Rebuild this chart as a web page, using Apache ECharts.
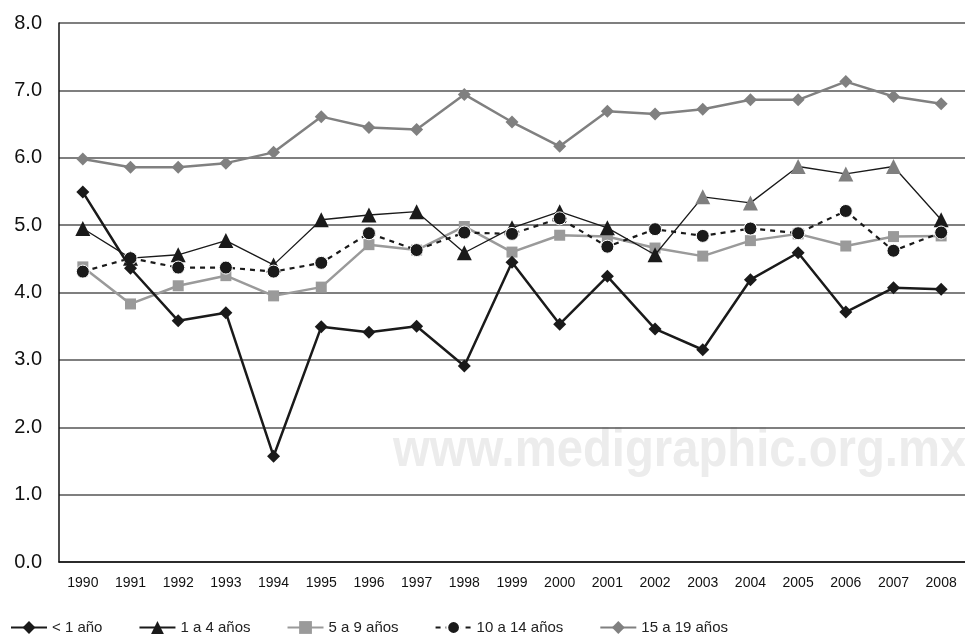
<!DOCTYPE html>
<html>
<head>
<meta charset="utf-8">
<script src="https://cdn.jsdelivr.net/npm/echarts@6/dist/echarts.min.js"></script>
<style>html,body{margin:0;padding:0;background:#fff}#c{width:965px;height:640px}</style>
</head>
<body>
<div id="c"></div>
<script>
var years = ['1990','1991','1992','1993','1994','1995','1996','1997','1998','1999','2000','2001','2002','2003','2004','2005','2006','2007','2008'];
var yTicks = [0,1,2,3,4,5,6,7,8];
var menos1 = [5.49,4.36,3.58,3.70,1.57,3.49,3.41,3.50,2.91,4.45,3.53,4.24,3.46,3.15,4.19,4.59,3.71,4.07,4.05];
var de1a4 = [4.95,4.51,4.56,4.77,4.41,5.08,5.15,5.20,4.59,4.96,5.20,4.96,4.56,5.42,5.33,5.87,5.76,5.87,5.08];
var de5a9 = [4.38,3.83,4.10,4.25,3.95,4.08,4.71,4.63,4.98,4.60,4.85,4.83,4.66,4.54,4.77,4.87,4.69,4.83,4.84];
var de10a14 = [4.31,4.51,4.37,4.37,4.31,4.44,4.88,4.63,4.89,4.87,5.10,4.68,4.94,4.84,4.95,4.88,5.21,4.62,4.89];
var de15a19 = [5.98,5.86,5.86,5.92,6.08,6.61,6.45,6.42,6.94,6.53,6.17,6.69,6.65,6.72,6.86,6.86,7.13,6.91,6.80];
var names = ['< 1 año','1 a 4 años','5 a 9 años','10 a 14 años','15 a 19 años'];

var grayTriIdx = {13:1,14:1,15:1,16:1,17:1};
var tri = de1a4.map(function(v,i){
  return grayTriIdx[i] ? {value:v, itemStyle:{color:'#7f7f7f'}} : v;
});

var FONT = '"Liberation Sans Narrow","Liberation Sans",Arial,sans-serif';
var chart = echarts.init(document.getElementById('c'));
chart.setOption({
  animation:false,
  backgroundColor:'#fff',
  grid:{left:59,right:-2,top:23,bottom:78,containLabel:false},
  graphic:[{type:'text',x:393,y:424,scaleX:0.875,z:0,silent:true,
    style:{text:'www.medigraphic.org.mx',fill:'#ececec',font:'bold 54px "Liberation Sans",Arial'}}],
  legend:{
    left:5,bottom:0,itemWidth:36,itemHeight:16,itemGap:36,
    textStyle:{fontFamily:FONT,fontSize:15,color:'#222'},
    data:names
  },
  xAxis:{
    type:'category',data:years,boundaryGap:true,
    axisLine:{lineStyle:{color:'#111',width:1.5}},
    axisTick:{show:false},
    axisLabel:{fontFamily:FONT,fontSize:14,color:'#111',margin:14}
  },
  yAxis:{
    type:'value',min:yTicks[0],max:yTicks[yTicks.length-1],interval:1,
    axisLine:{show:true,lineStyle:{color:'#111',width:1.5}},
    axisTick:{show:false},
    axisLabel:{fontFamily:'"Liberation Sans",Arial,sans-serif',fontSize:20,color:'#111',margin:17,
      formatter:function(v){return v.toFixed(1);}},
    splitLine:{lineStyle:{color:'#555',width:1.5}}
  },
  series:[
    {name:names[4],type:'line',data:de15a19,symbol:'diamond',symbolSize:13,
      lineStyle:{color:'#808080',width:2.5},itemStyle:{color:'#808080'},z:3},
    {name:names[2],type:'line',data:de5a9,symbol:'rect',symbolSize:11,
      lineStyle:{color:'#9a9a9a',width:2.5},itemStyle:{color:'#9a9a9a'},z:4},
    {name:names[1],type:'line',data:tri,symbol:'triangle',symbolSize:15,
      lineStyle:{color:'#1a1a1a',width:1.3},itemStyle:{color:'#1a1a1a'},z:5},
    {name:names[3],type:'line',data:de10a14,symbol:'circle',symbolSize:13,
      lineStyle:{color:'#1a1a1a',width:2.2,type:[5,5]},itemStyle:{color:'#1a1a1a',borderColor:'#fff',borderWidth:1},z:6},
    {name:names[0],type:'line',data:menos1,symbol:'diamond',symbolSize:13,
      lineStyle:{color:'#1a1a1a',width:2.5},itemStyle:{color:'#1a1a1a'},z:7}
  ]
});
</script>
</body>
</html>
